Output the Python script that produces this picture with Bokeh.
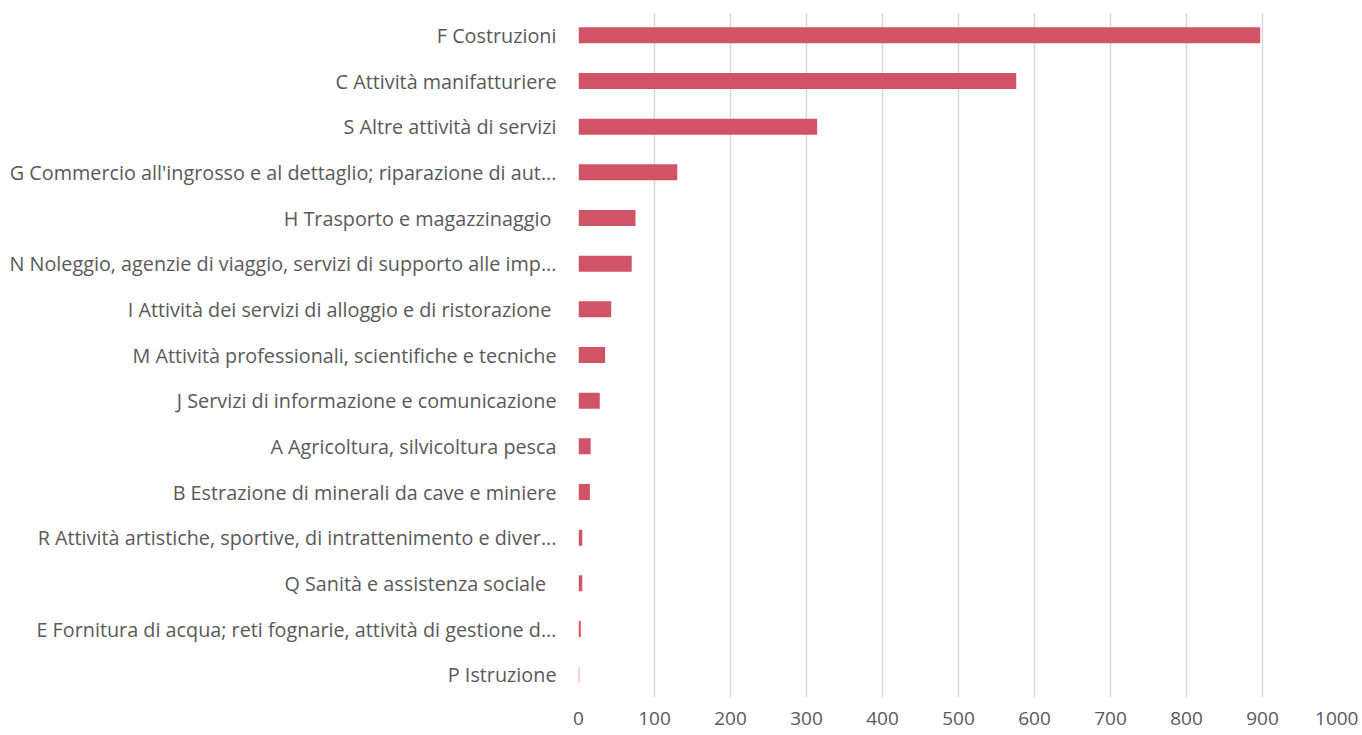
from bokeh.plotting import figure
from bokeh.models import FactorRange, Range1d, ColumnDataSource, FixedTicker
from bokeh.embed import file_html
from bokeh.resources import INLINE

categories = [
    "F Costruzioni",
    "C Attività manifatturiere",
    "S Altre attività di servizi",
    "G Commercio all'ingrosso e al dettaglio; riparazione di aut...",
    "H Trasporto e magazzinaggio ",
    "N Noleggio, agenzie di viaggio, servizi di supporto alle imp...",
    "I Attività dei servizi di alloggio e di ristorazione ",
    "M Attività professionali, scientifiche e tecniche",
    "J Servizi di informazione e comunicazione",
    "A Agricoltura, silvicoltura pesca",
    "B Estrazione di minerali da cave e miniere",
    "R Attività artistiche, sportive, di intrattenimento e diver...",
    "Q Sanità e assistenza sociale  ",
    "E Fornitura di acqua; reti fognarie, attività di gestione d...",
    "P Istruzione",
]
values = [897, 576, 314, 130, 75, 70, 43, 35, 28, 16, 15, 5, 5, 3, 1]
x_ticks = [0, 100, 200, 300, 400, 500, 600, 700, 800, 900, 1000]

src = ColumnDataSource(dict(cat=categories, val=values))

p = figure(
    y_range=FactorRange(*reversed(categories)),
    x_range=Range1d(0, 1000),
    frame_width=760, frame_height=685,
    min_border_left=578, min_border_top=12, min_border_right=20, min_border_bottom=38,
    output_backend="svg", toolbar_location=None,
)
p.hbar(y="cat", right="val", left=0, height=0.35, source=src,
       fill_color="#D05466", line_color=None)

p.outline_line_color = None
p.ygrid.grid_line_color = None
p.xgrid.grid_line_color = "#d9d9d9"
p.xgrid.grid_line_width = 1.5
p.xaxis.ticker = FixedTicker(ticks=x_ticks)

for ax in (p.xaxis, p.yaxis):
    ax.axis_line_color = None
    ax.major_tick_line_color = None
    ax.minor_tick_line_color = None
    ax.major_tick_out = 0
    ax.major_tick_in = 0
    ax.major_label_text_color = "#595959"
    ax.major_label_text_font = "Open Sans"

p.yaxis.major_label_text_font_size = "19.8px"
p.yaxis.major_label_standoff = 22
p.xaxis.major_label_text_font_size = "19px"
p.xaxis.major_label_standoff = 14

open("out.html", "w").write(file_html(p, INLINE))
